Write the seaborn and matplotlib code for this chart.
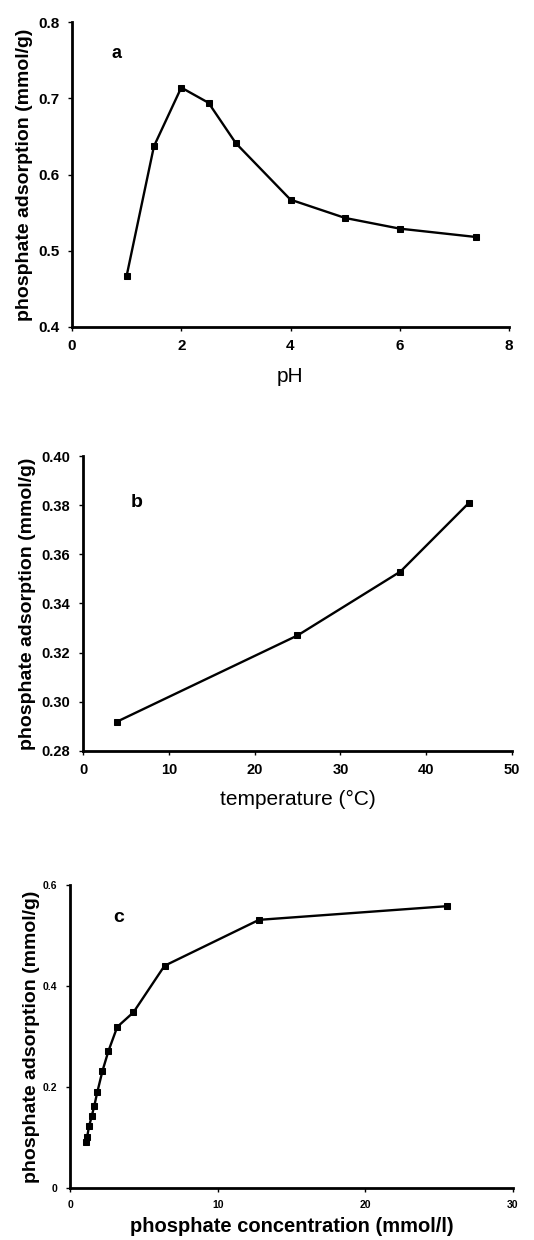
import matplotlib
matplotlib.use("Agg")
import matplotlib.pyplot as plt
import seaborn as sns
import pandas as pd

# Panel a: pH effect
ph = [1.0, 1.5, 2.0, 2.5, 3.0, 4.0, 5.0, 6.0, 7.4]
ads_ph = [0.467, 0.637, 0.714, 0.694, 0.641, 0.567, 0.543, 0.529, 0.518]

# Panel b: temperature effect
temp = [4, 25, 37, 45]
ads_temp = [0.292, 0.327, 0.353, 0.381]

# Panel c: concentration isotherm
conc = [1.07, 1.16, 1.29, 1.47, 1.64, 1.85, 2.2, 2.6, 3.2, 4.3, 6.4, 12.8, 25.5]
ads_conc = [0.091, 0.101, 0.122, 0.142, 0.162, 0.19, 0.232, 0.271, 0.319, 0.348, 0.44, 0.531, 0.558]

sns.set_style("ticks")
plt.rcParams['font.family'] = ['Liberation Sans', 'DejaVu Sans']
plt.rcParams['font.weight'] = 'bold'
plt.rcParams['text.color'] = 'black'
plt.rcParams['axes.labelcolor'] = 'black'

fig = plt.figure(figsize=(5.34, 12.4), dpi=100)

def fig_axes(l, r, t, b):
    W, H = 534, 1240
    return fig.add_axes([l / W, 1 - b / H, (r - l) / W, (b - t) / H])

axa = fig_axes(72, 509, 22, 327)
axb = fig_axes(83, 512, 456, 751)
axc = fig_axes(70, 513, 885, 1188)

def style(ax, tick_fs, pad):
    for s in ['top', 'right']:
        ax.spines[s].set_visible(False)
    for s in ['left', 'bottom']:
        ax.spines[s].set_linewidth(2.0)
        ax.spines[s].set_color('black')
    ax.tick_params(direction='out', length=3, width=1, labelsize=tick_fs,
                   colors='black', pad=pad)
    for lab in ax.get_xticklabels() + ax.get_yticklabels():
        lab.set_fontweight('bold')

line_kw = dict(color='black', linewidth=1.7, marker='s', markersize=5, markeredgecolor='black')

sns.lineplot(x=ph, y=ads_ph, ax=axa, **line_kw)
axa.set_xlim(0, 8)
axa.set_ylim(0.4, 0.8)
axa.set_xticks([0, 2, 4, 6, 8])
axa.set_yticks([0.4, 0.5, 0.6, 0.7, 0.8])
axa.set_yticklabels(['0.4', '0.5', '0.6', '0.7', '0.8'])
axa.set_xlabel('pH', fontsize=15, fontweight='normal', labelpad=10)
axa.set_ylabel('phosphate adsorption (mmol/g)', fontsize=14, fontweight='bold', labelpad=4)
axa.text(0.82, 0.759, 'a', fontsize=13, fontweight='bold', ha='center', va='center', color='black')
style(axa, 11, 6)

sns.lineplot(x=temp, y=ads_temp, ax=axb, **line_kw)
axb.set_xlim(0, 50)
axb.set_ylim(0.28, 0.40)
axb.set_xticks([0, 10, 20, 30, 40, 50])
axb.set_yticks([0.28, 0.30, 0.32, 0.34, 0.36, 0.38, 0.40])
axb.set_yticklabels(['0.28', '0.30', '0.32', '0.34', '0.36', '0.38', '0.40'])
axb.set_xlabel('temperature (°C)', fontsize=15, fontweight='normal', labelpad=9)
axb.set_ylabel('phosphate adsorption (mmol/g)', fontsize=14, fontweight='bold', labelpad=4)
axb.text(6.3, 0.381, 'b', fontsize=14, fontweight='bold', ha='center', va='center', color='black')
style(axb, 10.5, 6)

sns.lineplot(x=conc, y=ads_conc, ax=axc, **line_kw)
axc.set_xlim(0, 30)
axc.set_ylim(0, 0.6)
axc.set_xticks([0, 10, 20, 30])
axc.set_yticks([0, 0.2, 0.4, 0.6])
axc.set_yticklabels(['0', '0.2', '0.4', '0.6'])
axc.set_xlabel('phosphate concentration (mmol/l)', fontsize=14.5, fontweight='bold', labelpad=5)
axc.set_ylabel('phosphate adsorption (mmol/g)', fontsize=14, fontweight='bold', labelpad=2)
axc.text(3.3, 0.535, 'c', fontsize=14, fontweight='bold', ha='center', va='center', color='black')
style(axc, 7.5, 6)

fig.savefig('out.png', dpi=100, facecolor='white')
